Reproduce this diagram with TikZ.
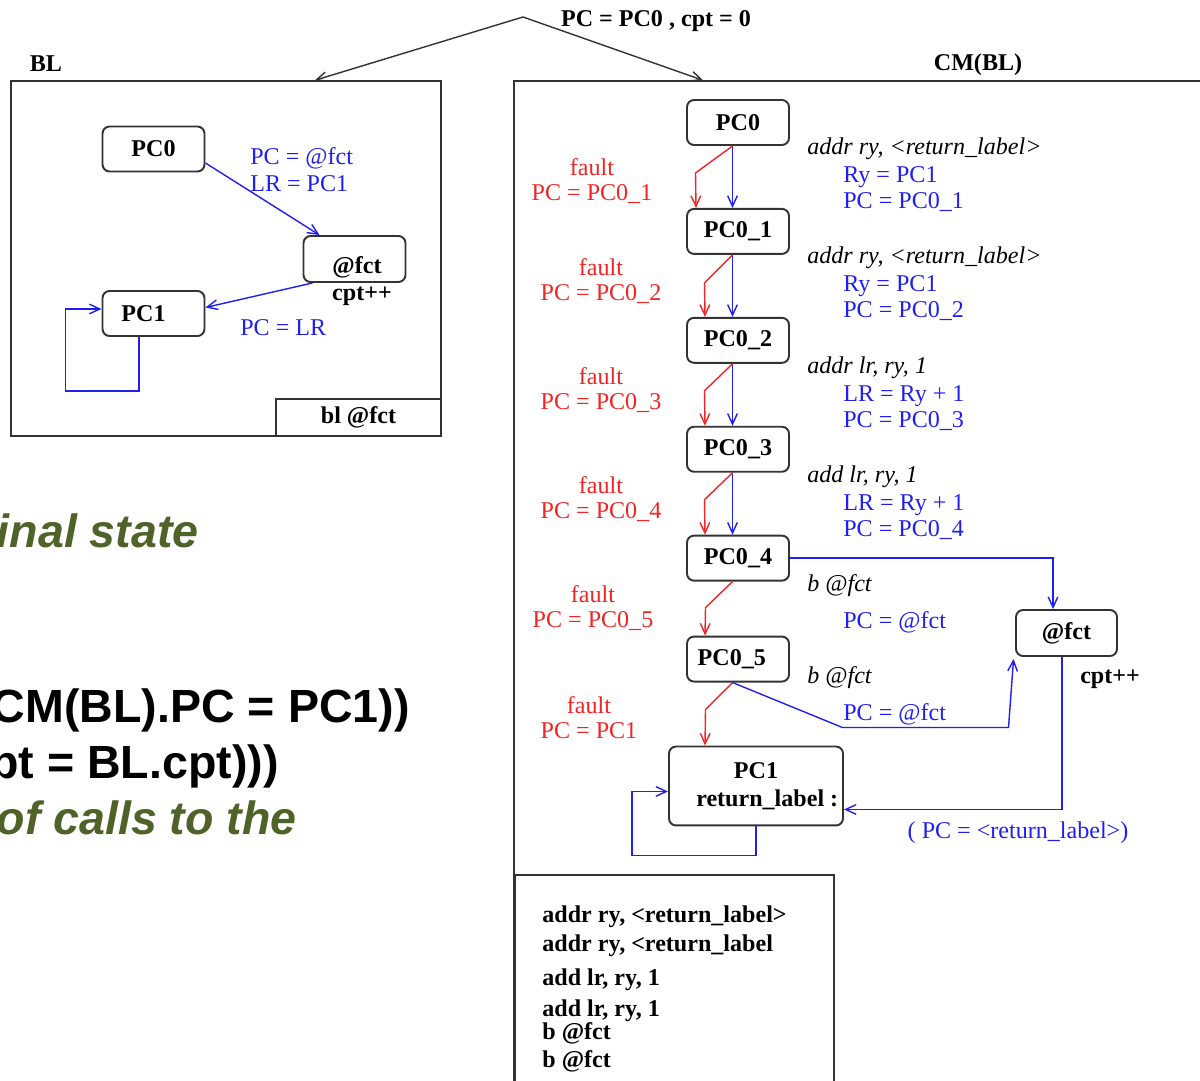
\documentclass[tikz,border=0pt]{standalone}
\usepackage{fontspec}
\setmainfont{Liberation Serif}
\newfontfamily\slidefont{Liberation Sans}
\usepackage{xcolor}
\usetikzlibrary{arrows.meta,positioning}
\definecolor{cmBlue}{HTML}{1F1FF2}
\definecolor{cmRed}{HTML}{F22424}
\definecolor{slGreen}{HTML}{4F6228}
\definecolor{boxGray}{HTML}{333333}

\begin{document}
\begin{tikzpicture}[
  x=0.02cm, y=-0.02cm,
  >={Straight Barb[length=6pt,width=5.5pt]},
  font=\fontsize{13.7}{16}\selectfont,
  pcbox/.style={
    draw=boxGray,
    line width=1.1pt,
    rounded corners=4pt,
    minimum width=2.04cm,
    minimum height=0.9cm,
    inner sep=2pt,
    align=center,
    font=\fontsize{13.7}{16}\selectfont\bfseries
  },
  panel/.style={draw=boxGray, line width=0.9pt, inner sep=0pt},
  flow/.style={->, draw=cmBlue, line width=0.8pt},
  faultflow/.style={->, draw=cmRed, line width=0.8pt},
  faultlbl/.style={
    text=cmRed, align=center, anchor=north, inner sep=0pt,
    font=\fontsize{13.7}{14.3}\selectfont
  },
  effect/.style={
    text=cmBlue, align=left, anchor=north west, inner sep=0pt,
    font=\fontsize{13.7}{15.2}\selectfont
  },
  instr/.style={anchor=west, inner sep=0pt, font=\fontsize{13.7}{16}\selectfont\itshape},
  heading/.style={inner sep=0pt, font=\fontsize{13.7}{16}\selectfont\bfseries},
  slidetext/.style={anchor=base east, inner sep=0pt,
    font=\slidefont\fontsize{26.5}{30}\selectfont\bfseries}
]
  \useasboundingbox (0,0) rectangle (1200,1081);
  \clip (0,0) rectangle (1200,1081);

  % slide text behind the figure
  \node[slidetext,text=slGreen,font=\slidefont\fontsize{26.5}{30}\selectfont\bfseries\itshape]
    (final) at (199,547) {inal state};
  \node[slidetext] (cmpc) at (410,722) {CM(BL).PC = PC1))};
  \node[slidetext] (cmcpt) at (279,778) {pt = BL.cpt)))};
  \node[slidetext,text=slGreen,font=\slidefont\fontsize{26.5}{30}\selectfont\bfseries\itshape]
    (calls) at (297,834) {of calls to the};

  % the two machines
  \node[panel,minimum width=8.6cm,minimum height=7.1cm] (blbox) at (226,258.5) {};
  \node[heading] (bllbl) at (46,64) {BL};
  \node[panel,minimum width=3.3cm,minimum height=0.74cm,anchor=south east,
    font=\fontsize{13.7}{16}\selectfont\bfseries] (blcall) at (blbox.south east) {bl @fct};

  \node[panel,minimum width=14.02cm,minimum height=20.38cm] (cmbox) at (864.5,590.5) {};
  \node[heading] (cmlbl) at (978,65) {CM(BL)};
  \node[panel,minimum width=6.38cm,minimum height=4.6cm,anchor=north west]
    (codebox) at (514,874) {};
  \node[anchor=north west,align=left,inner sep=0pt,
    font=\fontsize{13.7}{16}\selectfont\bfseries] (code) at (542,905)
    {addr ry, <return\_label>\\[1pt]
     addr ry, <return\_label\\[3.3pt]
     add lr, ry, 1\\[1.6pt]
     add lr, ry, 1\\[-3pt]
     b @fct\\
     b @fct};

  \coordinate (split) at (523,17);
  \node[heading] (initlbl) at (656,21) {PC = PC0 , cpt = 0};
  \draw[->,draw=boxGray,line width=0.8pt] (split)--([xshift=1.78cm]blbox.north);
  \draw[->,draw=boxGray,line width=0.8pt] (split)--([xshift=-3.23cm]cmbox.north);

  % BL
  \node[pcbox] (bpc0) at (153.5,149) {PC0};
  \node[pcbox,minimum height=0.92cm,text height=0.65cm,text depth=0.05cm]
    (bfct) at (354.5,259) {\hspace*{0.1cm}@fct};
  \node[pcbox] (bpc1) at (153.5,313.5) {PC1\hspace*{0.4cm}};
  \node[heading] (bcpt) at (362,296) {cpt++};

  \draw[flow] ([yshift=-0.28cm]bpc0.east)--([xshift=-0.7cm]bfct.north);
  \draw[flow] ([xshift=-0.84cm]bfct.south)--([yshift=0.12cm]bpc1.east);
  \draw[flow] ([xshift=-0.29cm]bpc1.south)--++(0,54)
    -|([xshift=-0.72cm,yshift=0.09cm]bpc1.west)--([yshift=0.09cm]bpc1.west);
  \node[effect] (bcall) at (250,147) {PC = @fct\\LR = PC1};
  \node[effect,anchor=west] (bret) at (240,328) {PC = LR};

  % CM(BL)
  \node[pcbox] (pc0) at (738,122.5) {PC0};
  \node[pcbox,below=1.24cm of pc0] (pc01) {PC0\_1};
  \node[pcbox,below=1.24cm of pc01] (pc02) {PC0\_2};
  \node[pcbox,below=1.24cm of pc02] (pc03) {PC0\_3};
  \node[pcbox,below=1.24cm of pc03] (pc04) {PC0\_4};
  \node[pcbox,below=1.08cm of pc04] (pc05) {PC0\_5\hspace*{0.25cm}};
  \node[pcbox,below=1.26cm of pc05,xshift=0.36cm,minimum width=3.48cm,
    minimum height=1.58cm] (pc1) {PC1\\\hspace*{0.45cm}return\_label :};
  \node[pcbox,minimum width=2.02cm,minimum height=0.92cm] (cfct) at (1066.5,633) {@fct};
  \node[heading] (ccpt) at (1110,679) {cpt++};

  \draw[flow] ([xshift=-0.11cm]pc0.south)--([xshift=-0.11cm]pc01.north);
  \draw[faultflow] ([xshift=-0.11cm]pc0.south)--++(-37,27)--([xshift=-0.84cm]pc01.north);
  \draw[flow] ([xshift=-0.11cm]pc01.south)--([xshift=-0.11cm]pc02.north);
  \draw[faultflow] ([xshift=-0.11cm]pc01.south)--++(-28,28)--([xshift=-0.66cm]pc02.north);
  \draw[flow] ([xshift=-0.11cm]pc02.south)--([xshift=-0.11cm]pc03.north);
  \draw[faultflow] ([xshift=-0.11cm]pc02.south)--++(-28,27)--([xshift=-0.66cm]pc03.north);
  \draw[flow] ([xshift=-0.11cm]pc03.south)--([xshift=-0.11cm]pc04.north);
  \draw[faultflow] ([xshift=-0.11cm]pc03.south)--++(-28,27)--([xshift=-0.66cm]pc04.north);
  \draw[faultflow] ([xshift=-0.11cm]pc04.south)--++(-27,26)--([xshift=-0.66cm]pc05.north);
  \draw[faultflow] ([xshift=-0.11cm]pc05.south)--++(-27,27)--([xshift=-1.02cm]pc1.north);

  \draw[flow] (pc04.east)-|([xshift=-0.27cm]cfct.north);
  \draw[flow] ([xshift=-0.11cm]pc05.south)--++(110,45)--++(166,0)
    --([xshift=-0.03cm,yshift=-0.04cm]cfct.south west);
  \draw[flow] ([xshift=-0.09cm]cfct.south)|-([yshift=-0.47cm]pc1.east);
  \draw[flow] (pc1.south)--++(0,29)
    -|([xshift=-0.72cm,yshift=-0.11cm]pc1.west)--([yshift=-0.11cm]pc1.west);

  \node[faultlbl] (f1) at (592,158) {fault\\PC = PC0\_1};
  \node[faultlbl] (f2) at (601,258) {fault\\PC = PC0\_2};
  \node[faultlbl] (f3) at (601,367) {fault\\PC = PC0\_3};
  \node[faultlbl] (f4) at (601,476) {fault\\PC = PC0\_4};
  \node[faultlbl] (f5) at (593,585) {fault\\PC = PC0\_5};
  \node[faultlbl] (f6) at (589,696) {fault\\PC = PC1};

  \node[instr] (i1) at (807,149) {addr ry, <return\_label>};
  \node[instr] (i2) at (807,258) {addr ry, <return\_label>};
  \node[instr] (i3) at (807,368) {addr lr, ry, 1};
  \node[instr] (i4) at (807,477) {add lr, ry, 1};
  \node[instr] (i5) at (807,586) {b @fct};
  \node[instr] (i6) at (807,678) {b @fct};

  \node[effect] (e1) at (843,166) {Ry = PC1\\PC = PC0\_1};
  \node[effect] (e2) at (843,275) {Ry = PC1\\PC = PC0\_2};
  \node[effect] (e3) at (843,385) {LR = Ry + 1\\PC = PC0\_3};
  \node[effect] (e4) at (843,494) {LR = Ry + 1\\PC = PC0\_4};
  \node[effect,anchor=west] (e5) at (843,622) {PC = @fct};
  \node[effect,anchor=west] (e6) at (843,714) {PC = @fct};
  \node[effect,anchor=center] (e7) at (1018,833) {( PC = <return\_label>)};
\end{tikzpicture}
\end{document}
